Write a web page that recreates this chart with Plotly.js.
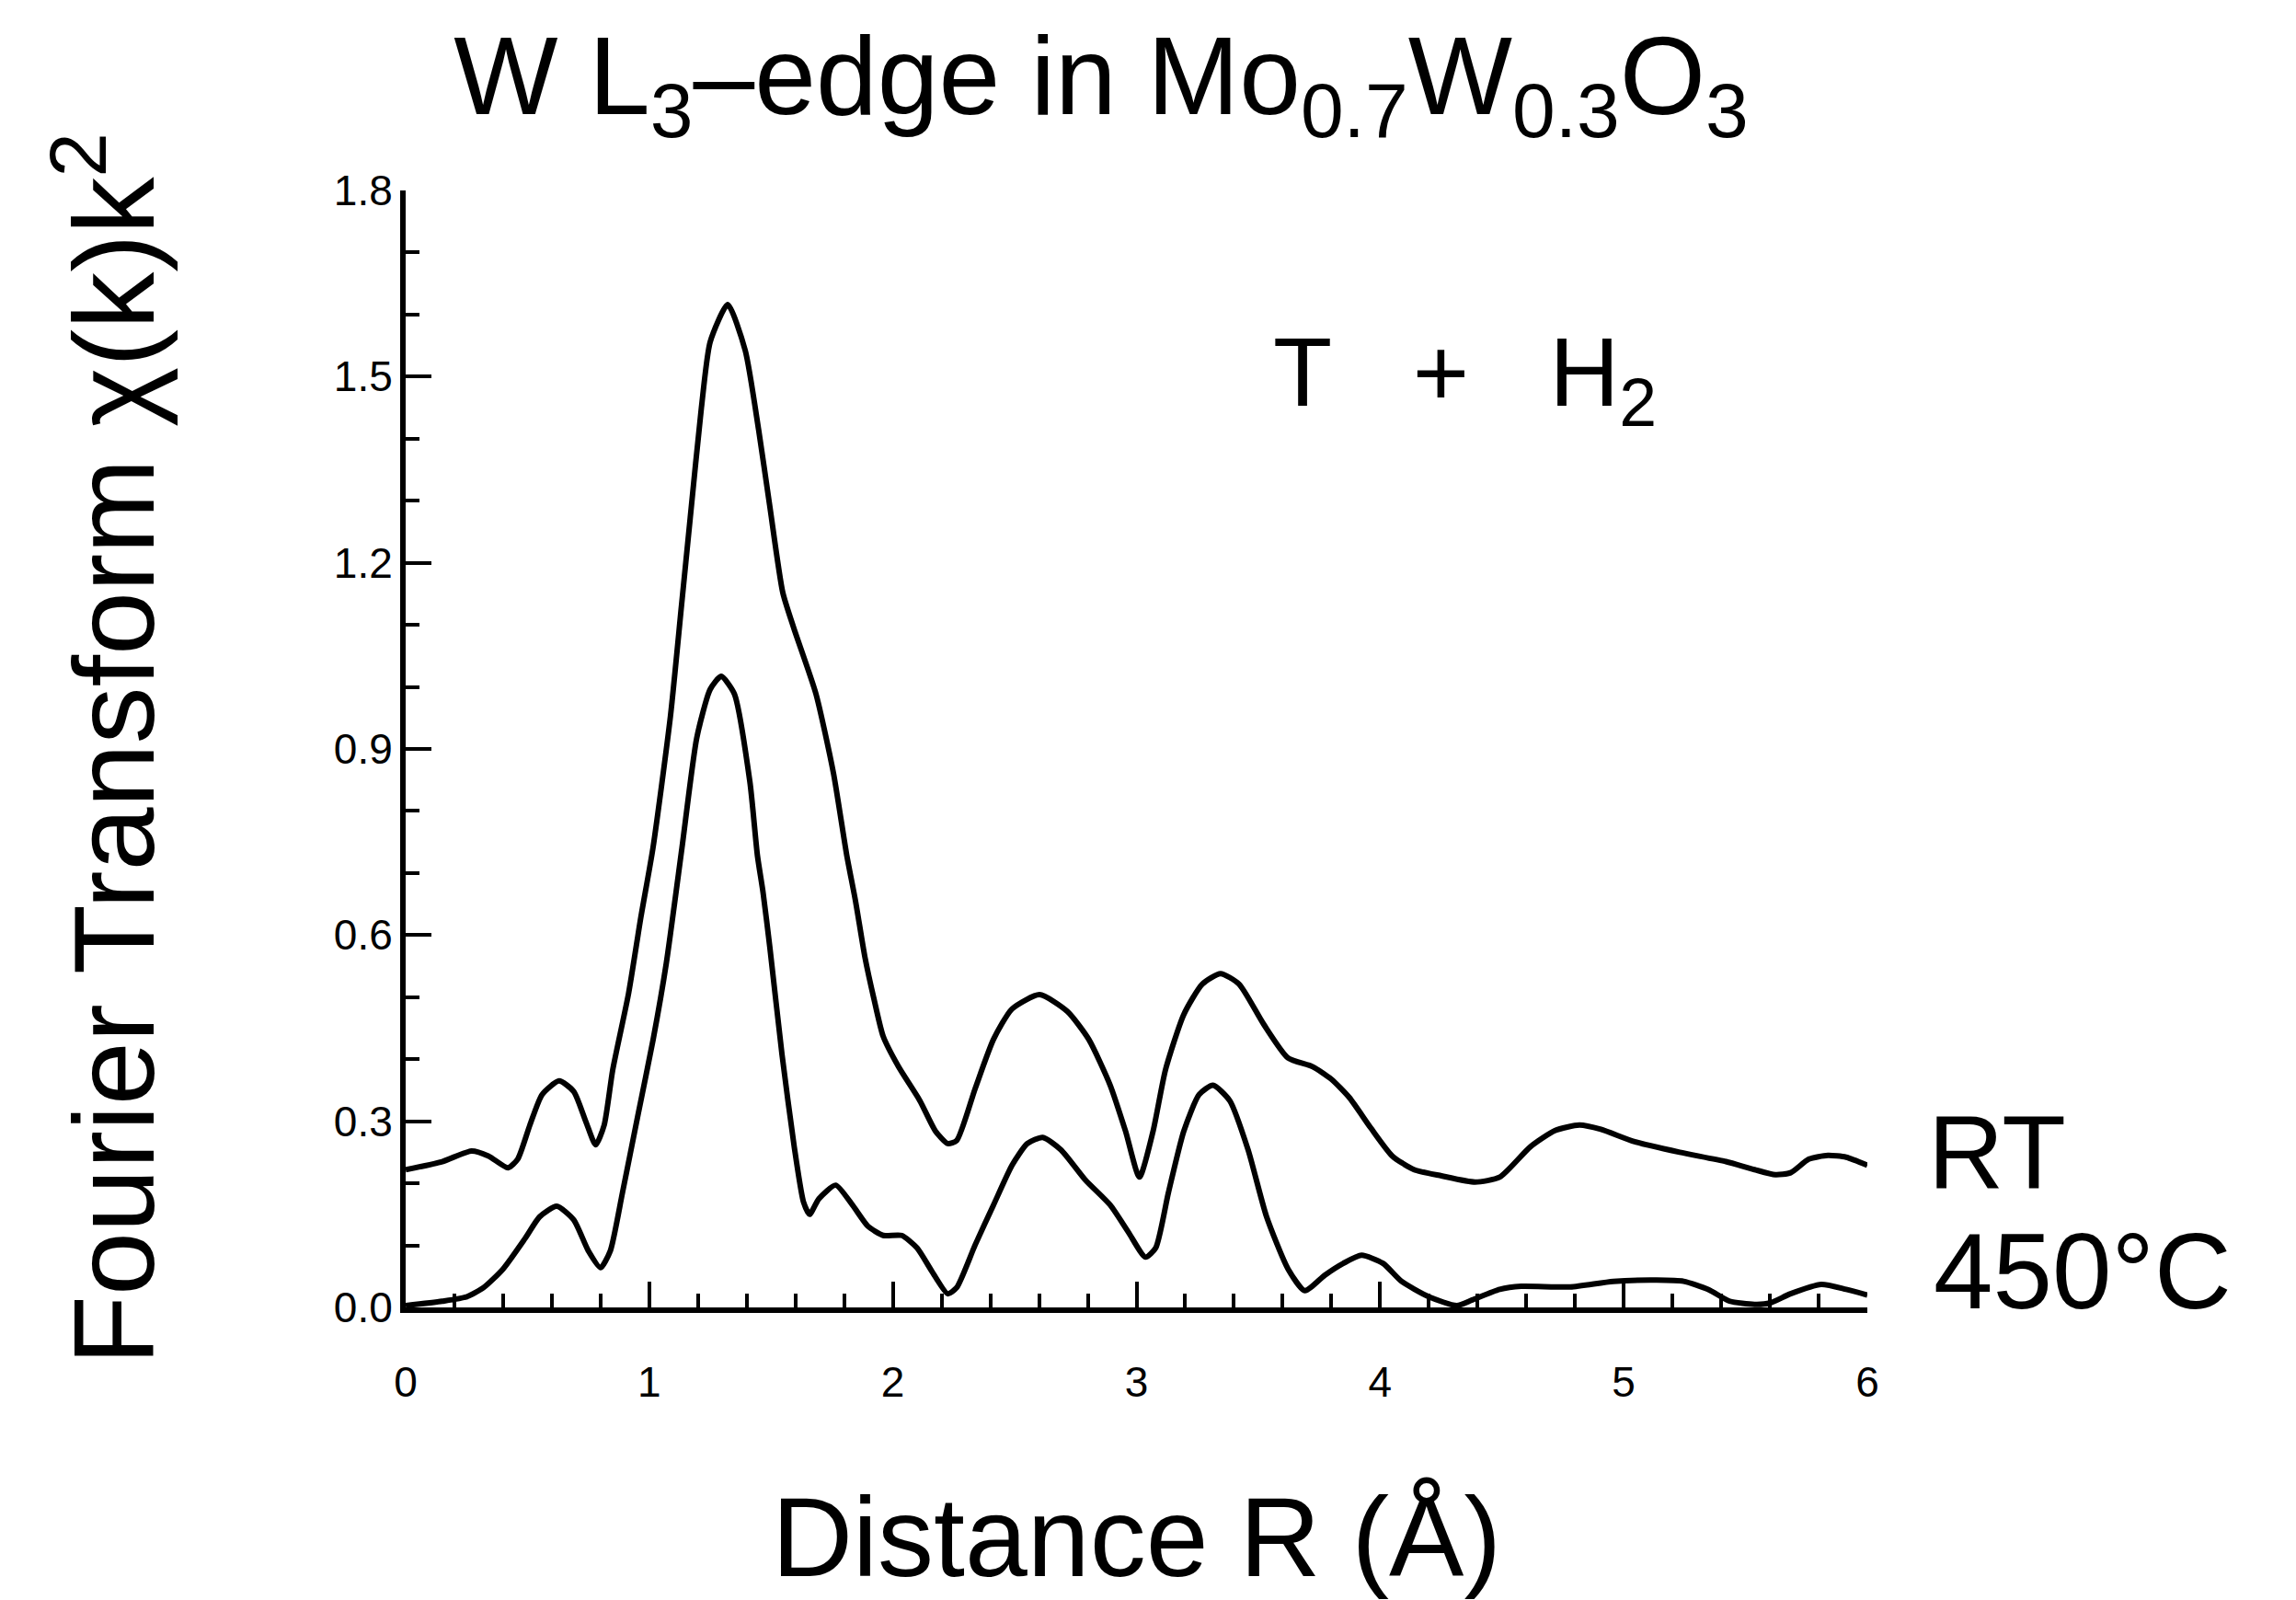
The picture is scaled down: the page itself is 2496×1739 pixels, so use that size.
<!DOCTYPE html>
<html>
<head>
<meta charset="utf-8">
<script src="https://cdn.plot.ly/plotly-3.0.1.min.js"></script>
<style>html,body{margin:0;padding:0;background:#fff;}#chart{width:2496px;height:1739px;}</style>
</head>
<body>
<div id="chart"></div>
<script>
// Distance R (Å) and Fourier transform magnitude, room temperature (RT)
const rRT = [0.00,0.15,0.27,0.34,0.42,0.46,0.51,0.56,0.63,0.69,0.74,0.78,0.815,0.85,0.915,0.966,1.015,1.087,1.132,1.168,1.214,1.250,1.322,1.394,1.449,1.494,1.548,1.593,1.684,1.756,1.81,1.847,1.885,1.923,1.960,2.023,2.111,2.175,2.225,2.262,2.338,2.413,2.489,2.602,2.716,2.804,2.892,2.955,3.012,3.068,3.119,3.194,3.270,3.345,3.421,3.521,3.622,3.723,3.799,3.874,3.962,4.050,4.139,4.252,4.390,4.491,4.617,4.718,4.818,4.906,5.045,5.23,5.42,5.537,5.622,5.685,5.760,5.838,5.913,6.000];
const ftRT = [0.222,0.235,0.252,0.244,0.225,0.239,0.294,0.343,0.365,0.348,0.299,0.262,0.294,0.383,0.506,0.630,0.740,0.953,1.130,1.272,1.450,1.556,1.616,1.542,1.414,1.293,1.152,1.095,0.989,0.861,0.730,0.654,0.565,0.496,0.437,0.388,0.333,0.284,0.264,0.269,0.353,0.432,0.481,0.504,0.477,0.432,0.358,0.284,0.210,0.284,0.383,0.472,0.521,0.538,0.521,0.457,0.402,0.388,0.368,0.338,0.289,0.244,0.222,0.212,0.202,0.210,0.259,0.285,0.294,0.287,0.267,0.250,0.235,0.222,0.214,0.217,0.239,0.245,0.242,0.229];

// 450 °C
const r450 = [0.00,0.15,0.25,0.32,0.40,0.49,0.55,0.62,0.69,0.75,0.80,0.84,0.89,0.953,1.016,1.07,1.134,1.195,1.250,1.295,1.349,1.413,1.444,1.467,1.495,1.545,1.595,1.633,1.658,1.696,1.765,1.834,1.897,1.960,2.036,2.099,2.162,2.225,2.262,2.338,2.413,2.489,2.552,2.615,2.690,2.791,2.892,2.967,3.037,3.079,3.131,3.194,3.257,3.314,3.383,3.458,3.534,3.622,3.691,3.773,3.849,3.924,4.012,4.088,4.201,4.315,4.378,4.491,4.579,4.781,4.957,5.135,5.246,5.347,5.435,5.537,5.60,5.685,5.811,5.913,6.000];
const ft450 = [0.003,0.010,0.017,0.032,0.062,0.111,0.146,0.163,0.141,0.091,0.064,0.091,0.185,0.309,0.432,0.555,0.740,0.918,0.996,1.017,0.989,0.847,0.728,0.669,0.580,0.407,0.259,0.170,0.150,0.175,0.197,0.165,0.131,0.116,0.116,0.096,0.057,0.022,0.032,0.101,0.165,0.229,0.264,0.274,0.254,0.205,0.165,0.121,0.081,0.096,0.185,0.284,0.343,0.358,0.333,0.254,0.146,0.062,0.027,0.052,0.071,0.084,0.071,0.042,0.017,0.003,0.012,0.029,0.034,0.033,0.042,0.044,0.042,0.029,0.010,0.005,0.007,0.022,0.037,0.029,0.020];

const seriesNames = ["RT", "450°C"];
const titleText = "W L<sub>3</sub>–edge in Mo<sub>0.7</sub>W<sub>0.3</sub>O<sub>3</sub>";
const xTitle = "Distance R (Å)";
const yTitle = "Fourier Transform χ(k)k<sup>2</sup>";
const condition = "T\u00a0\u00a0\u00a0+\u00a0\u00a0\u00a0H<sub>2</sub>";

const FONT = "Liberation Sans, Arial, Helvetica, sans-serif";

const traces = [
  {x: rRT, y: ftRT, name: seriesNames[0], mode: "lines", line: {color: "#000", width: 6, shape: "spline", smoothing: 0.6}},
  {x: r450, y: ft450, name: seriesNames[1], mode: "lines", line: {color: "#000", width: 6, shape: "spline", smoothing: 0.6}}
];

const axisCommon = {
  showline: true, linecolor: "#000", linewidth: 6,
  showgrid: false, zeroline: false,
  ticks: "inside", ticklen: 28, tickwidth: 4, tickcolor: "#000",
  automargin: false
};

const layout = {
  width: 2496, height: 1739,
  margin: {l: 441, r: 466, t: 207, b: 318, pad: 0},
  paper_bgcolor: "#fff", plot_bgcolor: "#fff",
  showlegend: false,
  title: {text: titleText, font: {family: FONT, size: 120, color: "#000"},
          x: 0.4796, xref: "container", xanchor: "center",
          y: 0.953, yref: "container", yanchor: "middle"},
  xaxis: Object.assign({}, axisCommon, {
    range: [0, 6], dtick: 1, tick0: 0,
    tickfont: {family: FONT, size: 46, color: "#000"},
    ticklabelstandoff: 36,
    minor: {dtick: 0.2, ticks: "inside", ticklen: 15, tickwidth: 4, tickcolor: "#000", showgrid: false},
    title: {text: xTitle, font: {family: FONT, size: 122, color: "#000"}, standoff: 112}
  }),
  yaxis: Object.assign({}, axisCommon, {
    range: [0, 1.8], dtick: 0.3, tick0: 0, tickformat: ".1f",
    tickfont: {family: FONT, size: 46, color: "#000"},
    ticklabelstandoff: -1,
    minor: {dtick: 0.1, ticks: "inside", ticklen: 15, tickwidth: 4, tickcolor: "#000", showgrid: false},
    title: {text: yTitle, font: {family: FONT, size: 124, color: "#000"}, standoff: 155}
  }),
  annotations: [
    {text: condition, xref: "paper", yref: "y", x: 0.7244, y: 1.495, xanchor: "center", yanchor: "middle",
     showarrow: false, font: {family: FONT, size: 105, color: "#000"}},
    {text: seriesNames[0], xref: "paper", yref: "y", x: 1.040, y: 0.251, xanchor: "left", yanchor: "middle",
     showarrow: false, font: {family: FONT, size: 114, color: "#000"}},
    {text: seriesNames[1], xref: "paper", yref: "y", x: 1.044, y: 0.058, xanchor: "left", yanchor: "middle",
     showarrow: false, font: {family: FONT, size: 116, color: "#000"}}
  ]
};

Plotly.newPlot("chart", traces, layout, {displayModeBar: false, staticPlot: true});
</script>
</body>
</html>
